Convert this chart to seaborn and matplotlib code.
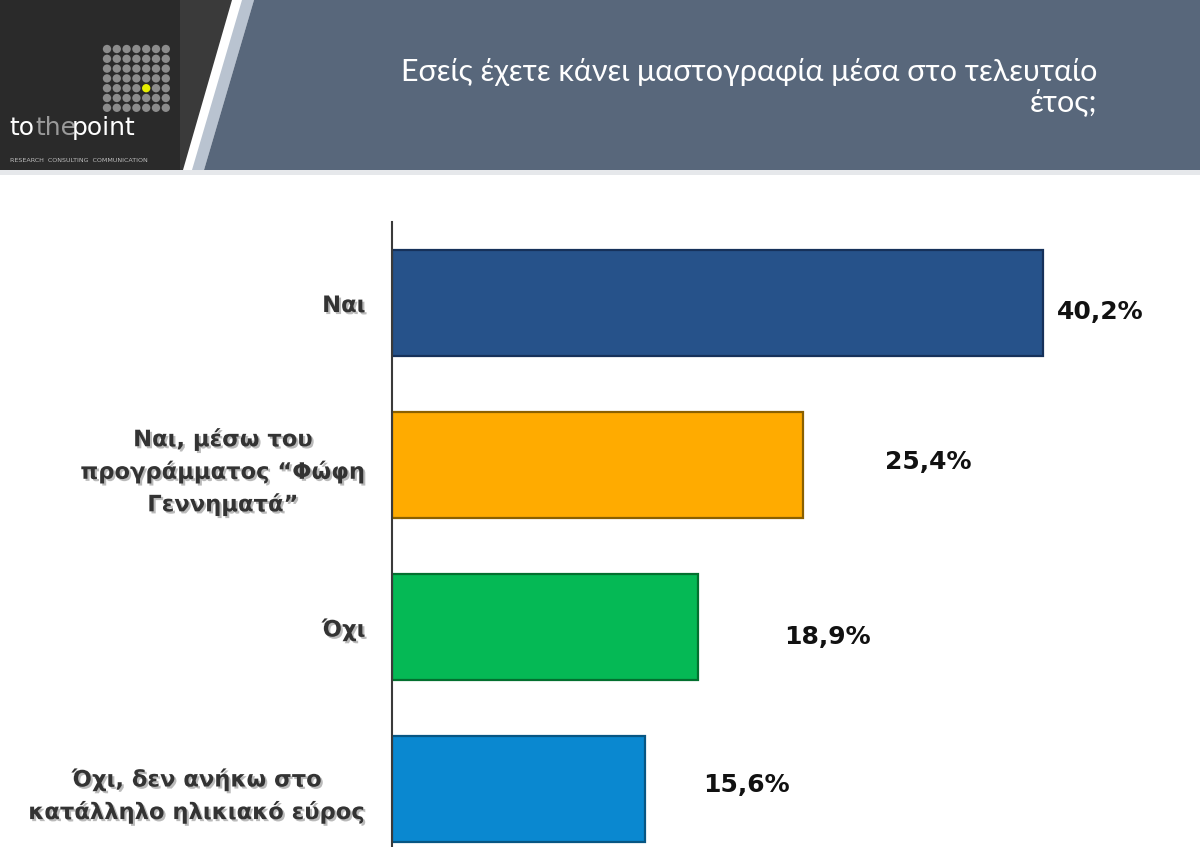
import numpy as np
import pandas as pd
import matplotlib
matplotlib.use("Agg")
import matplotlib.pyplot as plt
import matplotlib.patheffects as pe
from matplotlib.patches import Polygon, Rectangle
import seaborn as sns

sns.set_style("white")

# data
categories = ["Ναι",
              "Ναι, μέσω του\nπρογράμματος “Φώφη\nΓεννηματά”",
              "Όχι",
              "Όχι, δεν ανήκω στο\nκατάλληλο ηλικιακό εύρος"]
values = [40.2, 25.4, 18.9, 15.6]
value_labels = ["40,2%", "25,4%", "18,9%", "15,6%"]
bar_colors = ["#26528A", "#FFAB00", "#05B955", "#0A88D0"]
edge_colors = ["#16315A", "#8A6000", "#03702F", "#075683"]
title = "Εσείς έχετε κάνει μαστογραφία μέσα στο τελευταίο\nέτος;"

df = pd.DataFrame({"cat": categories, "val": values})

W, H = 1200, 847
fig = plt.figure(figsize=(W / 100, H / 100), dpi=100)
fig.patch.set_facecolor("white")

# ---- header band (drawn in pixel coords on a background axes)
bg = fig.add_axes([0, 0, 1, 1], zorder=0)
bg.set_xlim(0, W)
bg.set_ylim(H, 0)
bg.axis("off")

bg.add_patch(Rectangle((0, 170), W, 5, color="#e6e8eb", lw=0))
bg.add_patch(Polygon([(0, 0), (232, 0), (183, 170), (0, 170)], closed=True, color="#3a3a3a", lw=0))
bg.add_patch(Rectangle((0, 0), 180, 170, color="#2a2a2a", lw=0))
bg.add_patch(Polygon([(242, 0), (254, 0), (204, 170), (192, 170)], closed=True, color="#b9c3d0", lw=0))
bg.add_patch(Polygon([(254, 0), (W, 0), (W, 170), (204, 170)], closed=True, color="#58677B", lw=0))

# logo dots
gx, gy = np.meshgrid(np.arange(7), np.arange(7))
dot_x = 107 + gx.ravel() * 9.8
dot_y = 49 + gy.ravel() * 9.8
dot_c = ["#e6ee00" if (i == 4 and j == 4) else "#8c8c8c" for i, j in zip(gx.ravel(), gy.ravel())]
bg.scatter(dot_x, dot_y, s=36, c=dot_c, linewidths=0)

bg.text(9, 128, "to", color="white", fontsize=18, va="center", ha="left", family="DejaVu Sans")
bg.text(35, 128, "the", color="#9a9a9a", fontsize=18, va="center", ha="left", family="DejaVu Sans")
bg.text(72, 128, "point", color="white", fontsize=18, va="center", ha="left", family="DejaVu Sans")
bg.text(10, 160, "RESEARCH  CONSULTING  COMMUNICATION", color="#bbbbbb", fontsize=4.6,
        va="center", ha="left")

bg.text(1097, 87, title, color="white", fontsize=22, ha="right", va="center",
        multialignment="right", family=["Lato", "DejaVu Sans"], fontweight="normal",
        linespacing=1.12)

# ---- chart
ax = fig.add_axes([392 / W, 0, (W - 392) / W, 1 - 222 / H], zorder=1)
ax.patch.set_alpha(0)
sns.barplot(data=df, x="val", y="cat", hue="cat", palette=bar_colors, orient="h",
            legend=False, width=0.66, ax=ax, saturation=1)
for bar, ec in zip(ax.patches, edge_colors):
    bar.set_edgecolor(ec)
    bar.set_linewidth(1.6)

ax.set_xlim(0, (W - 392) / 16.19)
ax.set_ylim(3.358, -0.5)
ax.set_xlabel("")
ax.set_ylabel("")
ax.set_xticks([])
sns.despine(ax=ax, top=True, right=True, bottom=True)
ax.spines["left"].set_color("#3a3a3a")
ax.spines["left"].set_linewidth(1.5)
ax.tick_params(axis="y", length=0, pad=19)

shadow = [pe.SimplePatchShadow(offset=(1.5, -1.5), shadow_rgbFace="#777777", alpha=0.5), pe.Normal()]
for lab in ax.get_yticklabels():
    lab.set_fontsize(16.3)
    lab.set_fontweight("bold")
    lab.set_color("#333333")
    lab.set_multialignment("center")
    lab.set_linespacing(1.45)
    lab.set_path_effects(shadow)

# value labels, offset from the bar ends (px)
dx = [14, 82, 86, 59]
dy = [-9, 3, -10, 4]
for i, (v, t) in enumerate(zip(values, value_labels)):
    ax.annotate(t, xy=(v, i), xytext=(dx[i] * 0.72, dy[i] * 0.72), textcoords="offset points",
                ha="left", va="center", fontsize=18, fontweight="bold", color="#111111",
                family=["Liberation Sans Narrow", "DejaVu Sans"])

fig.savefig("out.png", dpi=100)
